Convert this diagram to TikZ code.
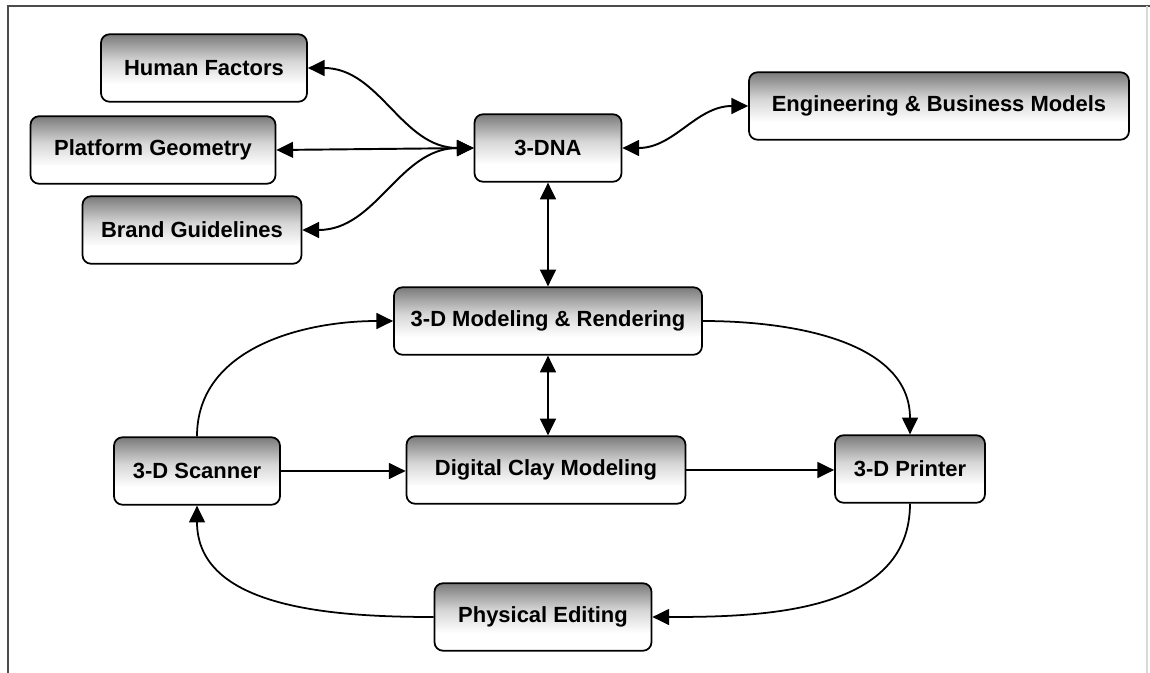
\documentclass[tikz,border=0pt]{standalone}
\usepackage{fontspec}
\setmainfont{Liberation Sans}
\usetikzlibrary{arrows.meta,shapes.misc}
\pgfdeclareverticalshading{boxshade}{100bp}{color(0bp)=(white); color(25bp)=(white); color(38bp)=(white); color(55bp)=(black!16); color(75bp)=(black!52); color(100bp)=(black!52)}
\begin{document}
\begin{tikzpicture}[x=0.02cm,y=-0.02cm,
  box/.style={draw, line width=1pt, rounded corners=0.17cm,
    shading=boxshade,
    font=\fontsize{12.5}{15}\selectfont\bfseries, align=center, inner sep=0pt,
    minimum height=1.35cm},
  oneway/.style={line width=1pt, -{Triangle[length=9.5pt,width=9pt]}},
  twoway/.style={line width=1.1pt, {Triangle[length=9.5pt,width=9pt]}-{Triangle[length=9.5pt,width=9pt]}}
]
\useasboundingbox (0,0) rectangle (1150,673);
\fill[white] (0,0) rectangle (1150,673);
% frame
\draw[black!70, line width=1pt] (8,673) -- (8,6) -- (1150,6);
\draw[black!15, line width=0.6pt] (1147,6) -- (1147,673);

% nodes
\node[box, minimum width=4.12cm] (hf)  at (204,68)  {Human Factors};
\node[box, minimum width=4.90cm] (pg)  at (153,150) {Platform Geometry};
\node[box, minimum width=4.38cm] (bg)  at (192,230) {Brand Guidelines};
\node[box, minimum width=2.94cm] (dna) at (548,148) {3-DNA};
\node[box, minimum width=7.60cm] (eng) at (939,106) {Engineering \& Business Models};
\node[box, minimum width=6.16cm] (mod) at (548,321) {3-D Modeling \& Rendering};
\node[box, minimum width=3.32cm] (scn) at (197,471) {3-D Scanner};
\node[box, minimum width=5.58cm] (clay) at (546,470) {Digital Clay Modeling};
\node[box, minimum width=3.00cm] (prn) at (910,469) {3-D Printer};
\node[box, minimum width=4.34cm] (pe)  at (543,617) {Physical Editing};

% connectors
\draw[twoway] (hf.east) to[out=0,in=180] (dna.west);
\draw[twoway] (pg.east) -- (dna.west);
\draw[twoway] (bg.east) to[out=0,in=180] (dna.west);
\draw[twoway] (dna.east) to[out=0,in=180] (eng.west);
\draw[twoway] (dna.south) -- (mod.north);
\draw[twoway] (mod.south) -- (mod.south |- clay.north);
\draw[oneway] (scn.north) to[out=90,in=180] (mod.west);
\draw[oneway] (mod.east) to[out=0,in=90] (prn.north);
\draw[oneway] (scn.east) -- (scn.east -| clay.west);
\draw[oneway] (clay.east) -- (clay.east -| prn.west);
\draw[oneway] (prn.south) to[out=270,in=0] (pe.east);
\draw[oneway] (pe.west) to[out=180,in=270] (scn.south);
\end{tikzpicture}
\end{document}
